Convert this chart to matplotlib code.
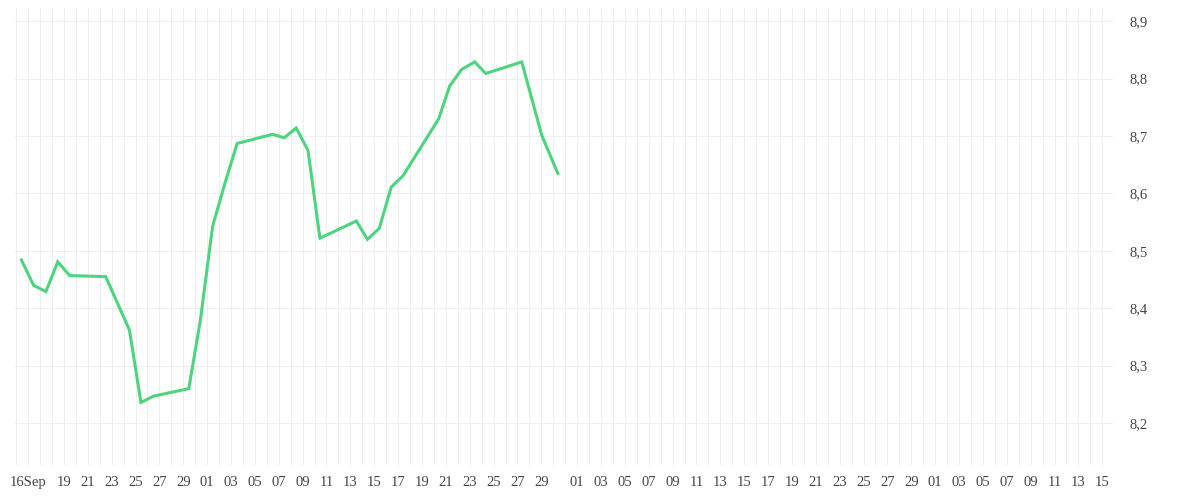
import matplotlib
matplotlib.use("Agg")
import matplotlib.pyplot as plt
from matplotlib.ticker import FixedLocator, MultipleLocator

# x: days counted from Aug 31 (Sep d -> d, Oct d -> 30+d, Nov d -> 61+d, Dec d -> 91+d)
days = [15.44, 16.46, 17.49, 18.48, 19.48, 22.50, 24.49, 25.45, 26.51, 29.46, 30.43, 31.46,
        32.48, 33.51, 36.47, 37.46, 38.46, 39.45, 40.45, 43.50, 44.43, 45.42, 46.42, 47.42,
        50.40, 51.32, 52.32, 53.42, 54.34, 57.36, 59.04, 60.38]
values = [8.484, 8.440, 8.429, 8.481, 8.457, 8.455, 8.362, 8.236, 8.247, 8.260, 8.379, 8.543,
          8.617, 8.687, 8.703, 8.697, 8.714, 8.675, 8.522, 8.552, 8.520, 8.539, 8.611, 8.631,
          8.730, 8.787, 8.816, 8.829, 8.809, 8.829, 8.701, 8.635]

tick_pos = [16] + list(range(19, 30, 2)) + [30 + d for d in range(1, 30, 2)] \
    + [61 + d for d in range(1, 30, 2)] + [91 + d for d in range(1, 16, 2)]
tick_labels = ["16Sep"] + [f"{d:02d}" for d in range(19, 30, 2)] + [f"{d:02d}" for d in range(1, 30, 2)] \
    + [f"{d:02d}" for d in range(1, 30, 2)] + [f"{d:02d}" for d in range(1, 16, 2)]
y_ticks = [8.2, 8.3, 8.4, 8.5, 8.6, 8.7, 8.8, 8.9]
y_labels = ["8,2", "8,3", "8,4", "8,5", "8,6", "8,7", "8,8", "8,9"]

fig = plt.figure(figsize=(12, 5), dpi=100)
ax = fig.add_axes([0.0125, 0.07, 0.915, 0.914])
ax.plot(days, values, color="#4cd47e", lw=2.2, solid_joinstyle="miter")
ax.set_xlim(14.9, 106.9)
ax.set_ylim(8.127, 8.923)

ax.xaxis.set_major_locator(FixedLocator(tick_pos))
ax.set_xticklabels(tick_labels)
ax.xaxis.set_minor_locator(MultipleLocator(1))
ax.yaxis.set_major_locator(FixedLocator(y_ticks))
ax.set_yticklabels(y_labels)
ax.yaxis.tick_right()
ax.grid(which="both", axis="x", color="#eeeeee", lw=0.8)
ax.grid(which="major", axis="y", color="#eeeeee", lw=0.8)
ax.tick_params(which="both", length=0)
ax.tick_params(axis="x", pad=8)
ax.tick_params(axis="y", pad=12)
for lab in ax.get_xticklabels() + ax.get_yticklabels():
    lab.set_fontfamily("Liberation Serif")
    lab.set_fontsize(10.5)
    lab.set_color("#444444")
for s in ax.spines.values():
    s.set_visible(False)
fig.savefig("out.png")
